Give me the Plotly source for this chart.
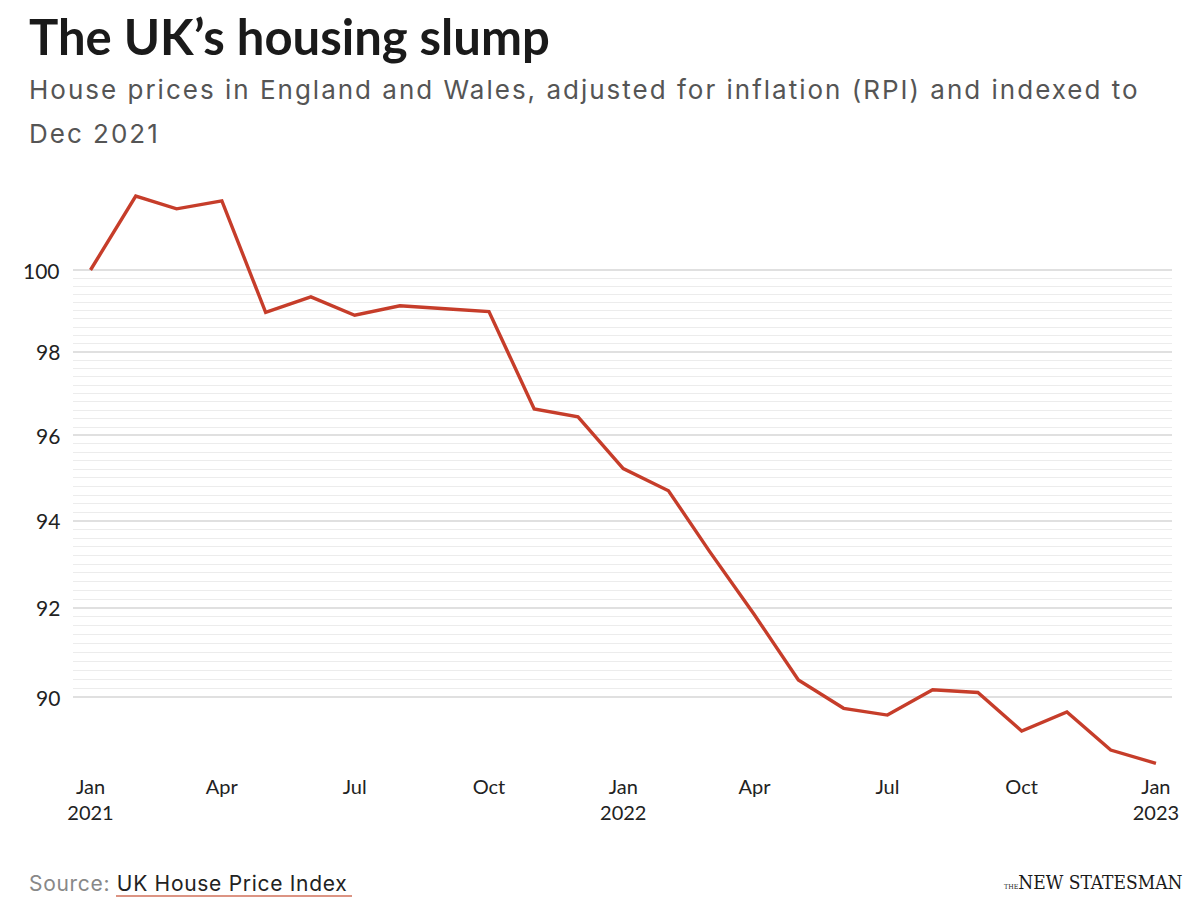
import math
import plotly.graph_objects as go

# ---- data ----
months = ["2021-01-01", "2021-02-01", "2021-03-01", "2021-04-01", "2021-05-01", "2021-06-01",
          "2021-07-01", "2021-08-01", "2021-09-01", "2021-10-01", "2021-11-01", "2021-12-01",
          "2022-01-01", "2022-02-01", "2022-03-01", "2022-04-01", "2022-05-01", "2022-06-01",
          "2022-07-01", "2022-08-01", "2022-09-01", "2022-10-01", "2022-11-01", "2022-12-01",
          "2023-01-01"]
index_values = [100.00, 101.84, 101.52, 101.72, 98.96, 99.34, 98.89, 99.12, 99.05, 98.98,
                96.63, 96.44, 95.22, 94.70, 93.30, 91.84, 90.38, 89.75, 89.60, 90.16,
                90.10, 89.25, 89.67, 88.83, 88.54]

x_tick_vals = ["2021-01-01", "2021-04-01", "2021-07-01", "2021-10-01", "2022-01-01",
               "2022-04-01", "2022-07-01", "2022-10-01", "2023-01-01"]
x_tick_text = ["Jan<br>2021", "Apr", "Jul", "Oct", "Jan<br>2022", "Apr", "Jul", "Oct", "Jan<br>2023"]

y_major_vals = [90, 92, 94, 96, 98, 100]
y_major_text = ["90", "92", "94", "96", "98", "100"]
y_minor_vals = [round(90 + 0.2 * i, 1) for i in range(51)]

title_text = "The UK’s housing slump"
subtitle_lines = ["House prices in England and Wales, adjusted for inflation (RPI) and indexed to",
                  "Dec 2021"]

# ---- layout geometry (page has an 8px body offset) ----
OFF = 8
W, H = 1200, 907
L = 73 - OFF
T = 180 - OFF
R = W - (1172 - OFF)
B = H - (770 - OFF)
plot_w = W - L - R
plot_h = H - T - B

def px(xp):
    return (xp - OFF - L) / plot_w

def py(yp):
    return (H - B - (yp - OFF)) / plot_h

FONT = "Lato"
SUB_FONT = "Inter"
LINE_COLOR = "#c63d2a"

fig = go.Figure()

fig.add_trace(go.Scatter(
    x=months, y=index_values, mode="lines",
    line=dict(color=LINE_COLOR, width=3.4),
    hoverinfo="x+y", showlegend=False,
))

fig.update_layout(
    width=W, height=H,
    margin=dict(l=L, r=R, t=T, b=B, autoexpand=False),
    paper_bgcolor="white", plot_bgcolor="white",
    font=dict(family=FONT, color="#222222"),
    xaxis=dict(
        type="date", automargin=False,
        range=["2020-12-20", "2023-01-12"],
        tickmode="array", tickvals=x_tick_vals, ticktext=x_tick_text,
        showgrid=False, zeroline=False, showline=False, ticks="",
        tickfont=dict(size=20, color="#222222", family=FONT),
        ticklabelstandoff=3,
    ),
    yaxis=dict(
        type="log", automargin=False,
        range=[1.946424, 2.009644],
        tickmode="array", tickvals=y_major_vals, ticktext=y_major_text,
        showticklabels=False,
        showgrid=True, gridcolor="#e0e0e0", gridwidth=1.5,
        zeroline=False, showline=False, ticks="",
        minor=dict(tickmode="array", tickvals=y_minor_vals, showgrid=True,
                   gridcolor="#ececec", gridwidth=1, ticks=""),
    ),
)

def spaced(s, ls):
    return "<span style='letter-spacing:%spx'>%s</span>" % (ls, s)

annotations = [
    dict(text="<b>" + title_text + "</b>", x=px(27), y=py(36), xanchor="left", yanchor="middle",
         font=dict(size=49, color="#1a1a1a", family=FONT), xref="paper", yref="paper"),
    dict(text=spaced(subtitle_lines[0], 2.0), x=px(27), y=py(90), xanchor="left", yanchor="middle",
         font=dict(size=26, color="#555555", family=SUB_FONT), xref="paper", yref="paper"),
    dict(text=spaced(subtitle_lines[1], 2.0), x=px(27), y=py(133), xanchor="left", yanchor="middle",
         font=dict(size=26, color="#555555", family=SUB_FONT), xref="paper", yref="paper"),
    dict(text=spaced("<span style='color:#888888'>Source: </span>UK House Price Index", 0.7),
         x=px(27), y=py(883), xanchor="left", yanchor="middle",
         font=dict(size=21, color="#222222", family=SUB_FONT), xref="paper", yref="paper"),
    dict(text="<span style='font-size:7px'>THE</span>NEW STATESMAN",
         x=px(1185), y=py(882), xanchor="right", yanchor="middle",
         font=dict(size=19, color="#1a1a1a", family="DejaVu Serif Condensed"),
         xref="paper", yref="paper"),
]
# y-axis tick labels, placed on the log axis at each tick value
for v, t in zip(y_major_vals, y_major_text):
    annotations.append(dict(text=t, x=px(62), xref="paper", y=math.log10(v), yref="y",
                            xanchor="right", yanchor="middle",
                            font=dict(size=21, color="#222222", family=FONT)))
for a in annotations:
    a.update(showarrow=False)
fig.update_layout(annotations=annotations)

# underline under source name
fig.add_shape(type="line", xref="paper", yref="paper",
              x0=px(116), x1=px(352), y0=py(896), y1=py(896),
              line=dict(color="#d0705a", width=1.5))

fig.write_html("out.html")
